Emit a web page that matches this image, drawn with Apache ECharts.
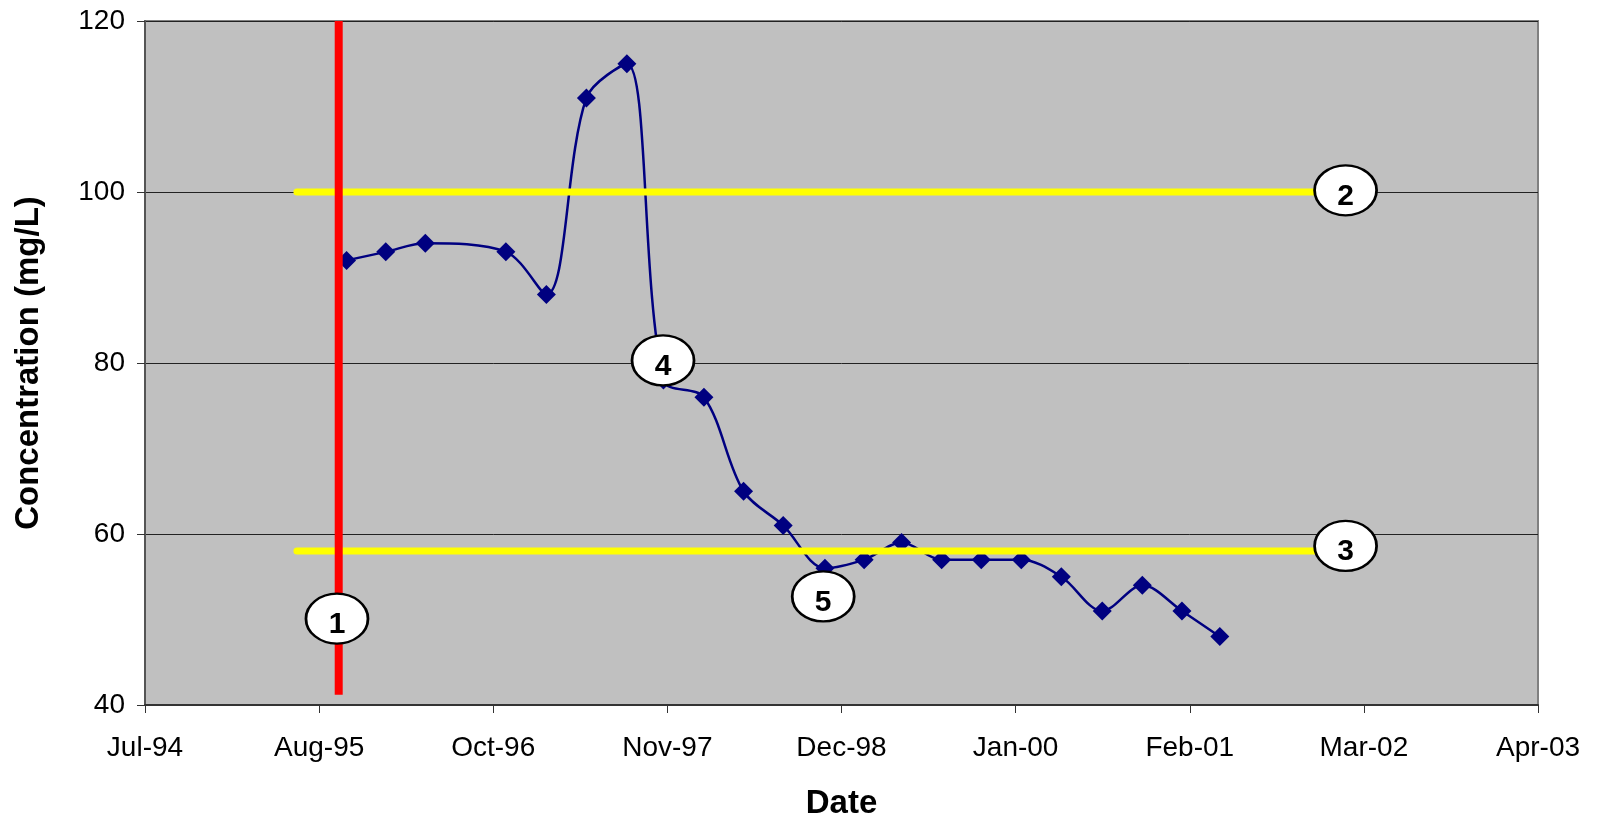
<!DOCTYPE html>
<html>
<head>
<meta charset="utf-8">
<script src="https://cdn.jsdelivr.net/npm/echarts@6/dist/echarts.min.js"></script>
<style>
html,body{margin:0;padding:0;background:#fff;}
#chart{width:1603px;height:825px;}
</style>
</head>
<body>
<div id="chart"></div>
<script>
// ---- data ----
var axisStartDate = '1994-07-25';           // first x tick (Jul-94)
var xTickLabels = ['Jul-94','Aug-95','Oct-96','Nov-97','Dec-98','Jan-00','Feb-01','Mar-02','Apr-03'];
var yTickValues = [40, 60, 80, 100, 120];

var sampleDates = ['1995-10-31','1996-01-29','1996-04-29','1996-10-31','1997-02-01','1997-05-04',
  '1997-08-05','1997-10-28','1998-01-29','1998-04-30','1998-07-30','1998-11-03','1999-02-01',
  '1999-04-28','1999-07-29','1999-10-28','2000-01-28','2000-04-29','2000-08-01','2000-11-01',
  '2001-01-31','2001-04-28'];
var concentration = [92, 93, 94, 93, 88, 111, 115, 78, 76, 65, 61, 56, 57, 59, 57, 57, 57, 55, 51, 54, 51, 48];

// reference lines
var redLineDate = '1995-10-13';
var redLineRange = [41.2, 120];
var yellowLineDates = ['1995-07-09', '2002-02-11'];
var upperLimit = 100;
var lowerLimit = 58;

// numbered callouts
var calloutLabels = ['1', '2', '3', '4', '5'];
var calloutDates = ['1995-10-09', '2002-02-11', '2002-02-11', '1997-10-27', '1998-10-30'];
var calloutValues = [50.1, 100.2, 58.6, 80.3, 52.7];

// ---- helpers ----
function dayOffset(s) {
  var a = s.split('-').map(Number), b = axisStartDate.split('-').map(Number);
  return (Date.UTC(a[0], a[1] - 1, a[2]) - Date.UTC(b[0], b[1] - 1, b[2])) / 86400000;
}
var DAY_INTERVAL = 400;
var FONT = "'Liberation Sans', Arial, sans-serif";

var lineData = sampleDates.map(function (d, i) { return [dayOffset(d), concentration[i]]; });
var redData = [[dayOffset(redLineDate), redLineRange[0]], [dayOffset(redLineDate), redLineRange[1]]];
var upperData = yellowLineDates.map(function (d) { return [dayOffset(d), upperLimit]; });
var lowerData = yellowLineDates.map(function (d) { return [dayOffset(d), lowerLimit]; });
var calloutData = calloutDates.map(function (d, i) {
  return { value: [dayOffset(d), calloutValues[i]], name: calloutLabels[i] };
});

var chart = echarts.init(document.getElementById('chart'), null, { renderer: 'canvas' });
chart.setOption({
  animation: false,
  backgroundColor: '#ffffff',
  grid: {
    left: 145, right: 65, top: 21, bottom: 113,
    show: true, backgroundColor: '#C0C0C0', borderColor: '#808080', borderWidth: 2
  },
  xAxis: {
    type: 'value',
    min: 0,
    max: DAY_INTERVAL * (xTickLabels.length - 1),
    interval: DAY_INTERVAL,
    name: 'Date',
    nameLocation: 'middle',
    nameGap: 82,
    nameTextStyle: { fontFamily: FONT, fontSize: 33, fontWeight: 'bold', color: '#000' },
    axisLine: { show: true, lineStyle: { color: '#333', width: 2 } },
    axisTick: { show: true, length: 8, lineStyle: { color: '#333', width: 1 } },
    axisLabel: {
      margin: 29, fontFamily: FONT, fontSize: 28, color: '#000',
      formatter: function (v) { return xTickLabels[Math.round(v / DAY_INTERVAL)] || ''; }
    },
    splitLine: { show: false }
  },
  yAxis: {
    type: 'value',
    min: yTickValues[0],
    max: yTickValues[yTickValues.length - 1],
    interval: yTickValues[1] - yTickValues[0],
    name: 'Concentration (mg/L)',
    nameLocation: 'middle',
    nameGap: 100,
    nameTextStyle: { fontFamily: FONT, fontSize: 33, fontWeight: 'bold', color: '#000' },
    axisLine: { show: true, lineStyle: { color: '#555', width: 2 } },
    axisTick: { show: true, length: 8, lineStyle: { color: '#333', width: 1 } },
    axisLabel: { margin: 20, fontFamily: FONT, fontSize: 28, color: '#000' },
    splitLine: { show: true, lineStyle: { color: '#222', width: 1 } }
  },
  series: [
    {
      name: 'Concentration',
      type: 'line',
      z: 2,
      data: lineData,
      smooth: 0.33,
      symbol: 'diamond',
      symbolSize: 19,
      itemStyle: { color: '#000080', opacity: 1 },
      lineStyle: { color: '#000080', width: 2.5 }
    },
    {
      name: 'Upper',
      type: 'line',
      z: 3,
      data: upperData,
      symbol: 'none',
      lineStyle: { color: '#FFFF00', width: 7, cap: 'round' }
    },
    {
      name: 'Lower',
      type: 'line',
      z: 3,
      data: lowerData,
      symbol: 'none',
      lineStyle: { color: '#FFFF00', width: 7, cap: 'round' }
    },
    {
      name: 'Start',
      type: 'line',
      z: 4,
      data: redData,
      symbol: 'none',
      lineStyle: { color: '#FF0000', width: 8, cap: 'butt' }
    },
    {
      name: 'Callouts',
      type: 'scatter',
      z: 6,
      data: calloutData,
      symbol: 'circle',
      symbolSize: [62, 50],
      itemStyle: { color: '#ffffff', borderColor: '#000', borderWidth: 2.5, opacity: 1 },
      label: {
        show: true, position: 'inside', offset: [0, 6],
        formatter: function (p) { return p.name; },
        fontFamily: FONT, fontSize: 30, fontWeight: 'bold', color: '#000'
      }
    }
  ]
});
</script>
</body>
</html>
